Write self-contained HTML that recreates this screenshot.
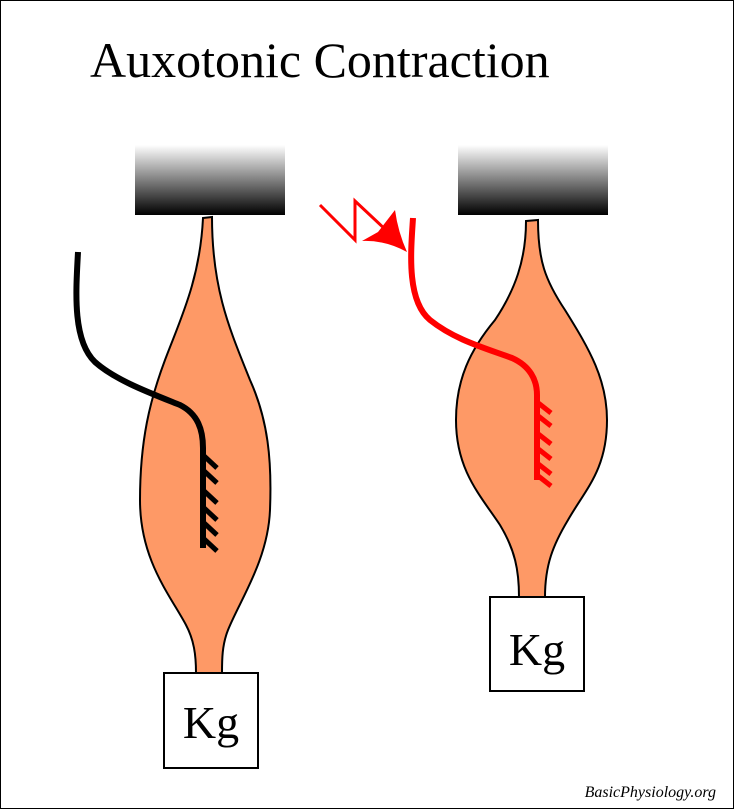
<!DOCTYPE html>
<html><head><meta charset="utf-8"><style>
html,body{margin:0;padding:0;background:#fff}
svg{display:block}
</style></head><body>
<svg width="734" height="809" viewBox="0 0 734 809" xmlns="http://www.w3.org/2000/svg">
<defs>
<linearGradient id="g" x1="0" y1="0" x2="0" y2="1">
<stop offset="0" stop-color="#fff"/><stop offset="1" stop-color="#000"/>
</linearGradient>
</defs>
<rect x="0.5" y="0.5" width="733" height="808" fill="#fff" stroke="#000" stroke-width="1"/>
<text x="90" y="77" font-family="Liberation Serif, serif" font-size="50">Auxotonic Contraction</text>
<rect x="135" y="145" width="150" height="70" fill="url(#g)"/>
<rect x="458" y="145" width="150" height="70" fill="url(#g)"/>

<!-- left muscle -->
<path d="M203,218 L212,217 C212,290 230,330 250,380 C268,420 272,460 270,510 C268,560 240,600 228,630 C222,645 222,660 222,673 L196,673 C196,655 194,640 186,625 C170,595 140,560 140,500 C140,440 150,400 165,360 C180,320 200,280 203,218 Z" fill="#fe9966" stroke="#000" stroke-width="2"/>
<rect x="164" y="673" width="94" height="95" fill="#fff" stroke="#000" stroke-width="2"/>
<text x="211" y="738" text-anchor="middle" font-family="Liberation Serif, serif" font-size="46">Kg</text>

<!-- right muscle -->
<path d="M526,221 L538,220 C538,260 545,280 565,310 C590,350 607,380 607,420 C607,470 585,490 568,520 C553,545 545,565 545,597 L519,597 C519,570 515,550 500,525 C480,495 456,470 456,420 C456,380 470,350 495,320 C515,290 526,260 526,221 Z" fill="#fe9966" stroke="#000" stroke-width="2"/>
<rect x="490" y="597" width="94" height="94" fill="#fff" stroke="#000" stroke-width="2"/>
<text x="537" y="665" text-anchor="middle" font-family="Liberation Serif, serif" font-size="46">Kg</text>

<!-- black nerve -->
<path d="M78,252 C76,290 72,340 95,362 C115,380 150,393 180,405 C198,414 203,430 203,448 L203,548" fill="none" stroke="#000" stroke-width="6"/>
<g stroke="#000" stroke-width="5">
<line x1="203" y1="455" x2="217" y2="468"/>
<line x1="203" y1="470" x2="217" y2="483"/>
<line x1="203" y1="490" x2="217" y2="503"/>
<line x1="203" y1="507" x2="217" y2="520"/>
<line x1="203" y1="522" x2="217" y2="535"/>
<line x1="203" y1="538" x2="217" y2="551"/>
</g>

<!-- red nerve -->
<path d="M413,218 C411,250 406,300 430,320 C455,340 485,348 512,358 C530,366 537,380 537,395 L537,480" fill="none" stroke="#f00" stroke-width="6"/>
<g stroke="#f00" stroke-width="5">
<line x1="537" y1="402" x2="551" y2="413"/>
<line x1="537" y1="415" x2="551" y2="426"/>
<line x1="537" y1="433" x2="551" y2="444"/>
<line x1="537" y1="448" x2="551" y2="459"/>
<line x1="537" y1="463" x2="551" y2="474"/>
<line x1="537" y1="475" x2="551" y2="486"/>
</g>
<polyline points="320,205 355,240 355,201 388,232" fill="none" stroke="#f00" stroke-width="3"/>
<path d="M407,252 Q385,240 362,241 L378,232 L395,210 Q398,232 407,252 Z" fill="#f00"/>

<text x="716" y="797" text-anchor="end" font-family="Liberation Serif, serif" font-style="italic" font-size="16">BasicPhysiology.org</text>
</svg>
</body></html>
